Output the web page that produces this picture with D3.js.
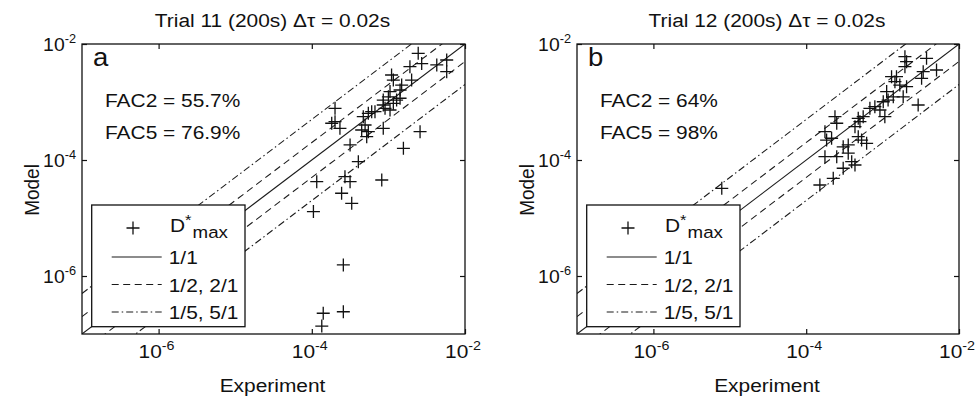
<!DOCTYPE html>
<html><head><meta charset="utf-8">
<script src="https://cdn.jsdelivr.net/npm/d3@7"></script>
<style>body{margin:0;background:#fff}svg{display:block;font-family:Arial,"Liberation Sans",sans-serif}</style>
</head><body><svg id="c" width="978" height="403"></svg>
<script>
const titles=["Trial 11 (200s) \u0394\u03c4 = 0.02s","Trial 12 (200s) \u0394\u03c4 = 0.02s"];
const panelLetters=["a","b"];
const fac2=["FAC2 = 55.7%","FAC2 = 64%"];
const fac5=["FAC5 = 76.9%","FAC5 = 98%"];
const expA=[2.45e-3,2.72e-3,1.91e-3,4.28e-3,5.77e-3,5.77e-3,1.10e-3,1.16e-3,2.01e-3,1.49e-3,1.42e-3,1.05e-3,1.0e-3,8.57e-4,1.42e-3,1.16e-3,8.57e-4,6.68e-4,5.47e-4,4.70e-4,2.01e-4,2.01e-4,2.33e-4,4.96e-4,4.48e-4,5.47e-4,8.57e-4,5.21e-4,2.59e-3,3.16e-4,1.57e-3,4.05e-4,8.19e-4,1.16e-4,2.71e-4,3.16e-4,2.45e-4,3.32e-4,1.05e-4,2.58e-4,1.41e-4,2.58e-4,1.35e-4,1.82e-4,6.05e-4,1.28e-3,9.04e-4,1.05e-3];
const modA=[6.9e-3,4.6e-3,4.06e-3,4.35e-3,5.3e-3,3.33e-3,2.92e-3,2.39e-3,2.39e-3,1.96e-3,1.61e-3,1.51e-3,1.23e-3,1.08e-3,1.16e-3,9.5e-4,8.87e-4,6.8e-4,6.38e-4,5.58e-4,7.78e-4,4.57e-4,3.52e-4,4.01e-4,3.29e-4,3.08e-4,3.52e-4,2.52e-4,3.08e-4,1.82e-4,1.59e-4,9.35e-5,4.52e-5,4.23e-5,5.15e-5,4.23e-5,2.67e-5,1.79e-5,1.29e-5,1.55e-6,2.28e-7,2.42e-7,1.37e-7,4.3e-4,6.8e-4,1.08e-3,7.78e-4,7.28e-4];
const expB=[1.96e-3,2.06e-3,3.76e-3,1.96e-3,5.08e-3,3.40e-3,3.24e-3,1.31e-3,1.52e-3,1.45e-3,1.68e-3,2.06e-3,1.13e-3,1.86e-3,1.38e-3,1.18e-3,1.02e-3,2.92e-3,7.92e-4,6.82e-4,9.23e-4,1.07e-3,5.57e-4,4.8e-4,5.05e-4,4.35e-4,2.38e-4,2.51e-4,1.76e-4,2.15e-4,1.85e-4,4.8e-4,5.31e-4,6.18e-4,3.55e-4,3.05e-4,3.55e-4,1.76e-4,2.51e-4,4.35e-4,3.94e-4,3.05e-4,2.26e-4,1.51e-4,7.85e-6];
const modB=[6.04e-3,4.96e-3,5.66e-3,4.06e-3,3.56e-3,3.33e-3,2.56e-3,2.73e-3,2.73e-3,2.24e-3,1.96e-3,1.84e-3,1.51e-3,1.23e-3,1.23e-3,1.08e-3,1.01e-3,8.87e-4,8.3e-4,7.78e-4,7.28e-4,5.58e-4,5.58e-4,5.24e-4,4.57e-4,3.75e-4,5.58e-4,4.3e-4,3.08e-4,2.37e-4,2.21e-4,2.52e-4,2.21e-4,1.94e-4,1.82e-4,1.69e-4,1.31e-4,1.14e-4,1.14e-4,8.2e-5,9.35e-5,7.2e-5,4.83e-5,3.71e-5,3.25e-5];
const ratios=[1,0.5,2,0.2,5];
const ratioStyle=["solid","dash","dash","dashdot","dashdot"];
const tickVals=[1e-6,1e-4,1e-2];
const tickExp=["-6","-4","-2"];
const legendLabels=["1/1","1/2, 2/1","1/5, 5/1"];
const axisDomain=[1e-7,1e-2];

const svg=d3.select("#c");
const INK="#111";
const dashes={solid:null,dash:"7,4.5",dashdot:"7,3,1.5,3"};
const SX=1.1;
function T(g,x,y,anchor,size,rot,sx){
  const s=sx||SX;
  const sc=rot?`rotate(${rot}) scale(1,${s})`:`scale(${s},1)`;
  return g.append("text")
    .attr("transform",`translate(${x},${y}) ${sc}`)
    .attr("text-anchor",anchor).attr("font-size",size).attr("fill",INK);
}
const panels=[{x0:82,x1:465,exp:expA,mod:modA},{x0:577,x1:959,exp:expB,mod:modB}];
const y0=44,y1=334;

panels.forEach((p,i)=>{
  const g=svg.append("g");
  const sx=d3.scaleLog().domain(axisDomain).range([p.x0,p.x1]);
  const sy=d3.scaleLog().domain(axisDomain).range([y1,y0]);
  const cid="clip"+i;
  svg.append("clipPath").attr("id",cid).append("rect")
    .attr("x",p.x0).attr("y",y0).attr("width",p.x1-p.x0).attr("height",y1-y0);
  const lg=g.append("g").attr("clip-path",`url(#${cid})`);
  ratios.forEach((r,k)=>{
    const pts=axisDomain.map(v=>[sx(v),sy(v*r)]);
    lg.append("path").attr("d",d3.line()(pts)).attr("fill","none")
      .attr("stroke","#1a1a1a").attr("stroke-width",1.05)
      .attr("stroke-dasharray",dashes[ratioStyle[k]]);
  });
  const mg=g.append("g").attr("clip-path",`url(#${cid})`);
  p.exp.forEach((e,k)=>{
    const cx=sx(e),cy=sy(p.mod[k]);
    mg.append("path").attr("d",`M${cx-6.5},${cy}H${cx+6.5}M${cx},${cy-6.5}V${cy+6.5}`)
      .attr("stroke",INK).attr("stroke-width",1.3).attr("fill","none");
  });
  const mk=(ax)=>ax.tickValues(tickVals).tickFormat("").tickSizeInner(-5).tickSizeOuter(0);
  [[d3.axisBottom(sx),`translate(0,${y1})`],[d3.axisTop(sx),`translate(0,${y0})`],
   [d3.axisLeft(sy),`translate(${p.x0},0)`],[d3.axisRight(sy),`translate(${p.x1},0)`]].forEach(([ax,tr])=>{
    const a=g.append("g").attr("transform",tr).call(mk(ax));
    a.select(".domain").remove();
    a.selectAll("line").attr("stroke",INK).attr("stroke-width",1.2);
  });
  g.append("rect").attr("x",p.x0).attr("y",y0).attr("width",p.x1-p.x0).attr("height",y1-y0)
    .attr("fill","none").attr("stroke",INK).attr("stroke-width",1.3);
  tickVals.forEach((v,k)=>{
    const t=T(g,sx(v)-2,358,"middle",19);
    t.append("tspan").text("10");
    t.append("tspan").attr("font-size",13).attr("dy",-8).text(tickExp[k]);
    const ty=T(g,p.x0-6,sy(v)+7,"end",19,0,1.02);
    ty.append("tspan").text("10");
    ty.append("tspan").attr("font-size",12.5).attr("dy",-8).text(tickExp[k]);
  });
  const cxm=(p.x0+p.x1)/2;
  T(g,cxm-1,27,"middle",19).text(titles[i]);
  T(g,cxm-1,392,"middle",19).text("Experiment");
  T(g,p.x0-43,(y0+y1)/2+1,"middle",19,-90).text("Model");
  T(g,p.x0+11,66,"start",25).text(panelLetters[i]);
  T(g,p.x0+23,106.5,"start",19).text(fac2[i]);
  T(g,p.x0+23,138.5,"start",19).text(fac5[i]);
  const L=g.append("g").attr("transform",`translate(${p.x0+9.7},205)`);
  L.append("rect").attr("width",153.3).attr("height",121.7).attr("fill","#fff")
    .attr("stroke",INK).attr("stroke-width",1.3);
  L.append("path").attr("d","M34.8,23H47.8M41.3,16.5V29.5").attr("stroke",INK).attr("stroke-width",1.3);
  const lt=T(L,78.3,27,"start",19);
  lt.append("tspan").text("D");
  lt.append("tspan").attr("font-size",15).attr("dy",-7).text("*");
  lt.append("tspan").attr("font-size",17).attr("dy",13).attr("dx",1).text("max");
  const rowY=[52,79.5,107];
  const rowStyle=["solid","dash","dashdot"];
  rowY.forEach((ry,k)=>{
    L.append("line").attr("x1",20).attr("x2",70).attr("y1",ry).attr("y2",ry)
      .attr("stroke","#1a1a1a").attr("stroke-width",1.05).attr("stroke-dasharray",dashes[rowStyle[k]]);
    T(L,77,ry+7,"start",19).text(legendLabels[k]);
  });
});
</script></body></html>
